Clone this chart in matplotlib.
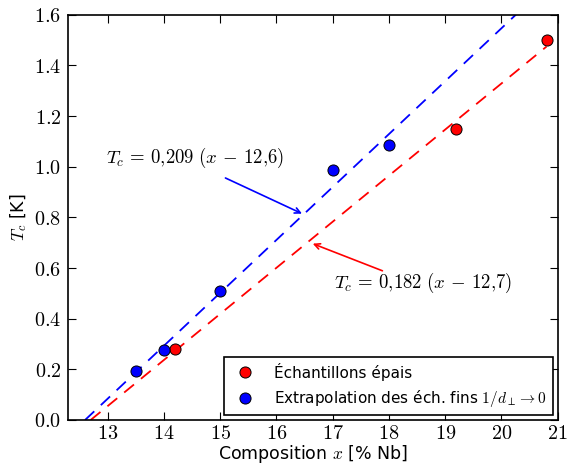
import matplotlib
matplotlib.use('Agg')
import matplotlib.pyplot as plt
import matplotlib.ticker as mticker
import numpy as np

plt.rcParams['mathtext.fontset'] = 'cm'
plt.rcParams['font.family'] = ['DejaVu Sans']

# donnees
x_epais = [14.2, 19.2, 20.8]
tc_epais = [0.28, 1.15, 1.50]
x_fins = [13.5, 14.0, 15.0, 17.0, 18.0]
tc_fins = [0.195, 0.275, 0.51, 0.985, 1.085]

# ajustements lineaires Tc = a (x - x0)
a_fins, x0_fins = 0.209, 12.6
a_epais, x0_epais = 0.182, 12.7

x_ticks = [13, 14, 15, 16, 17, 18, 19, 20, 21]
y_ticks = [0.0, 0.2, 0.4, 0.6, 0.8, 1.0, 1.2, 1.4, 1.6]

fig = plt.figure(figsize=(5.68, 4.68), dpi=100)
ax = fig.add_axes([0.12, 0.1026, 0.862, 0.866])

xf = np.array([x0_fins, 21.0])
xe = np.array([x0_epais, 20.8])
ax.plot(xf, a_fins * (xf - x0_fins), '--', color='b', dashes=(7, 5), lw=1.3)
ax.plot(xe, a_epais * (xe - x0_epais), '--', color='r', dashes=(7, 5), lw=1.3)

ax.plot(x_epais, tc_epais, 'o', color='r', mec='k', mew=0.7, ms=8,
        label=u'Échantillons épais')
ax.plot(x_fins, tc_fins, 'o', color='b', mec='k', mew=0.7, ms=8,
        label=u'Extrapolation des éch. fins $1/d_\\perp \\rightarrow 0$')

ax.annotate('', xy=(16.5, 0.81), xytext=(15.05, 0.96),
            arrowprops=dict(arrowstyle='->', color='b', lw=1.2))
ax.text(12.98, 1.035, r'$T_c\, =\, 0{,}209\ (x\, -\, 12{,}6)$', fontsize=13.5, va='center')
ax.annotate('', xy=(16.6, 0.70), xytext=(17.93, 0.585),
            arrowprops=dict(arrowstyle='->', color='r', lw=1.2))
ax.text(17.02, 0.54, r'$T_c\, =\, 0{,}182\ (x\, -\, 12{,}7)$', fontsize=13.5, va='center')

ax.set_xlim(12.3, 21)
ax.set_ylim(0, 1.6)
ax.set_xticks(x_ticks)
ax.set_yticks(y_ticks)
ax.xaxis.set_major_formatter(mticker.FuncFormatter(lambda v, p: r'$%d$' % v))
ax.yaxis.set_major_formatter(mticker.FuncFormatter(lambda v, p: r'$%.1f$' % v))
ax.tick_params(direction='in', top=True, right=True, length=6, labelsize=14.5)
ax.tick_params(axis='x', pad=3)
ax.tick_params(axis='y', pad=5)
for s in ax.spines.values():
    s.set_linewidth(1.2)

ax.set_xlabel(r'Composition $x$ [% Nb]', fontsize=12.5, labelpad=0)
ax.set_ylabel(r'$T_c$ [K]', fontsize=12.5, labelpad=4)

leg = ax.legend(loc='lower right', numpoints=1, fontsize=11, fancybox=False,
                framealpha=1, handletextpad=0.9, borderaxespad=0.3)
leg.get_frame().set_edgecolor('k')
leg.get_frame().set_linewidth(1.2)

fig.savefig('out.png', dpi=100)
